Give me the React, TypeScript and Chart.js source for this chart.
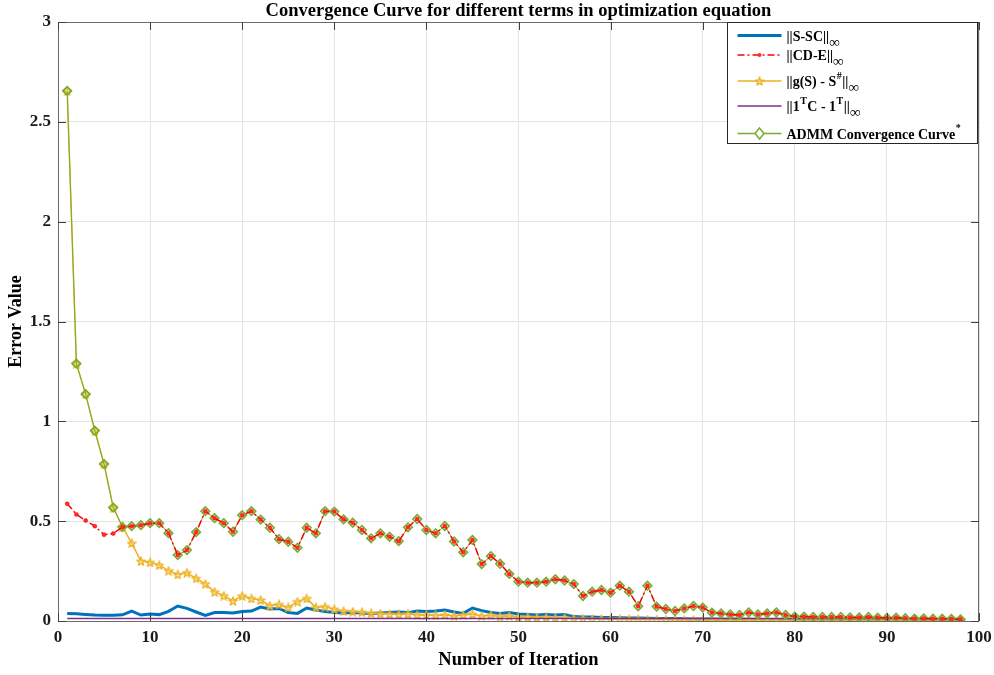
import React, { useEffect, useRef } from 'react';
import { Chart, registerables } from 'chart.js';

Chart.register(...registerables);

const TITLE = 'Convergence Curve for different terms in optimization equation';
const X_LABEL = 'Number of Iteration';
const Y_LABEL = 'Error Value';
const xTicks = [0, 10, 20, 30, 40, 50, 60, 70, 80, 90, 100];
const yTicks = [0, 0.5, 1, 1.5, 2, 2.5, 3];
const yTickLabels = ['0', '0.5', '1', '1.5', '2', '2.5', '3'];

const iterations = Array.from({ length: 98 }, (_, i) => i + 1);

const sSC = [
  0.037, 0.036, 0.033, 0.03, 0.029, 0.029, 0.031, 0.05, 0.03, 0.035,
  0.032, 0.048, 0.075, 0.063, 0.045, 0.028, 0.042, 0.042, 0.04, 0.047,
  0.05, 0.07, 0.06, 0.063, 0.042, 0.038, 0.065, 0.055, 0.047, 0.042,
  0.04, 0.042, 0.04, 0.038, 0.04, 0.042, 0.045, 0.042, 0.05, 0.048,
  0.05, 0.055, 0.045, 0.038, 0.065, 0.052, 0.043, 0.038, 0.043, 0.035,
  0.033, 0.03, 0.033, 0.03, 0.033, 0.022, 0.02, 0.02, 0.018, 0.018,
  0.016, 0.015, 0.015, 0.014, 0.013, 0.012, 0.012, 0.011, 0.01, 0.01,
  0.01, 0.009, 0.009, 0.009, 0.009, 0.008, 0.008, 0.008, 0.008, 0.008,
  0.008, 0.007, 0.007, 0.007, 0.007, 0.007, 0.007, 0.006, 0.006, 0.006,
  0.006, 0.006, 0.006, 0.006, 0.005, 0.005, 0.005, 0.005,
];

const cdE = [
  0.587, 0.534, 0.503, 0.475, 0.432, 0.438, 0.471, 0.475, 0.48, 0.49,
  0.49, 0.44, 0.33, 0.355, 0.445, 0.55, 0.515, 0.49, 0.447, 0.53,
  0.55, 0.508, 0.467, 0.41, 0.397, 0.367, 0.467, 0.439, 0.55, 0.548,
  0.509, 0.492, 0.456, 0.414, 0.439, 0.422, 0.4, 0.469, 0.511, 0.456,
  0.439, 0.476, 0.398, 0.344, 0.406, 0.285, 0.325, 0.287, 0.236, 0.197,
  0.192, 0.192, 0.197, 0.209, 0.203, 0.185, 0.125, 0.147, 0.155, 0.142,
  0.177, 0.147, 0.074, 0.177, 0.072, 0.06, 0.05, 0.063, 0.075, 0.067,
  0.042, 0.038, 0.033, 0.03, 0.043, 0.033, 0.038, 0.043, 0.03, 0.022,
  0.022, 0.02, 0.02, 0.02, 0.02, 0.018, 0.018, 0.02, 0.017, 0.015,
  0.017, 0.014, 0.012, 0.013, 0.011, 0.011, 0.01, 0.008,
];

const gS = [
  2.655, 1.289, 1.136, 0.953, 0.786, 0.568, 0.471, 0.39, 0.3, 0.294,
  0.28, 0.252, 0.233, 0.242, 0.214, 0.186, 0.146, 0.127, 0.101, 0.126,
  0.113, 0.105, 0.077, 0.083, 0.068, 0.097, 0.113, 0.068, 0.072, 0.059,
  0.05, 0.047, 0.044, 0.039, 0.037, 0.035, 0.033, 0.036, 0.03, 0.03,
  0.028, 0.03, 0.025, 0.03, 0.035, 0.025, 0.028, 0.022, 0.025, 0.02,
  0.02, 0.017, 0.018, 0.015, 0.016, 0.012, 0.012, 0.01, 0.01, 0.009,
  0.009, 0.008, 0.008, 0.007, 0.007, 0.006, 0.006, 0.005, 0.005, 0.005,
  0.005, 0.004, 0.004, 0.004, 0.004, 0.004, 0.004, 0.003, 0.003, 0.003,
  0.003, 0.003, 0.003, 0.003, 0.003, 0.003, 0.003, 0.003, 0.003, 0.003,
  0.003, 0.003, 0.003, 0.003, 0.003, 0.003, 0.003, 0.003,
];

const oneTC = [
  0.0125, 0.0125, 0.0125, 0.0125, 0.0125, 0.0125, 0.0125, 0.0125, 0.0125, 0.0125,
  0.0125, 0.0125, 0.0125, 0.0125, 0.0125, 0.0125, 0.0125, 0.0125, 0.0125, 0.0125,
  0.0125, 0.0125, 0.0125, 0.0125, 0.0125, 0.0125, 0.0125, 0.0125, 0.0125, 0.0125,
  0.012, 0.012, 0.012, 0.012, 0.012, 0.012, 0.012, 0.012, 0.012, 0.012,
  0.012, 0.012, 0.012, 0.012, 0.012, 0.012, 0.012, 0.012, 0.012, 0.012,
  0.012, 0.012, 0.012, 0.012, 0.012, 0.012, 0.012, 0.012, 0.012, 0.012,
  0.012, 0.012, 0.012, 0.012, 0.012, 0.012, 0.012, 0.012, 0.012, 0.012,
  0.012, 0.012, 0.012, 0.012, 0.012, 0.012, 0.012, 0.012, 0.012, 0.012,
  0.012, 0.012, 0.012, 0.012, 0.012, 0.012, 0.012, 0.012, 0.012, 0.012,
  0.012, 0.012, 0.012, 0.012, 0.012, 0.012, 0.012, 0.012,
];

const admm = [
  2.655, 1.289, 1.136, 0.953, 0.786, 0.568, 0.471, 0.475, 0.48, 0.49,
  0.49, 0.44, 0.33, 0.355, 0.445, 0.55, 0.515, 0.49, 0.447, 0.53,
  0.55, 0.508, 0.467, 0.41, 0.397, 0.367, 0.467, 0.439, 0.55, 0.548,
  0.509, 0.492, 0.456, 0.414, 0.439, 0.422, 0.4, 0.469, 0.511, 0.456,
  0.439, 0.476, 0.398, 0.344, 0.406, 0.285, 0.325, 0.287, 0.236, 0.197,
  0.192, 0.192, 0.197, 0.209, 0.203, 0.185, 0.125, 0.147, 0.155, 0.142,
  0.177, 0.147, 0.074, 0.177, 0.072, 0.06, 0.05, 0.063, 0.075, 0.067,
  0.042, 0.038, 0.033, 0.03, 0.043, 0.033, 0.038, 0.043, 0.03, 0.022,
  0.022, 0.02, 0.02, 0.02, 0.02, 0.018, 0.018, 0.02, 0.017, 0.015,
  0.017, 0.014, 0.012, 0.013, 0.011, 0.011, 0.01, 0.008,
];

const BLUE = '#0072BD';
const RED = '#FF0000';
const YELLOW = '#EDB120';
const PURPLE = '#7E2F8E';
const GREEN = '#77AC30';
const SERIF = '"Liberation Serif", "Times New Roman", serif';
const DASHDOT = [7, 3, 2, 3];

function makeStar(size: number): HTMLCanvasElement {
  const c = document.createElement('canvas');
  c.width = size;
  c.height = size;
  const g = c.getContext('2d')!;
  const cx = size / 2;
  const cy = size / 2 + 0.5;
  const R = size / 2 - 0.8;
  const r = R * 0.45;
  g.beginPath();
  for (let i = 0; i < 10; i++) {
    const ang = -Math.PI / 2 + (i * Math.PI) / 5;
    const rad = i % 2 === 0 ? R : r;
    const px = cx + rad * Math.cos(ang);
    const py = cy + rad * Math.sin(ang);
    if (i === 0) g.moveTo(px, py);
    else g.lineTo(px, py);
  }
  g.closePath();
  g.fillStyle = 'rgba(245,215,130,0.6)';
  g.fill();
  g.strokeStyle = YELLOW;
  g.lineWidth = 1.3;
  g.stroke();
  return c;
}

type Part = [string, 'n' | 'sub' | 'sup'];
interface LegendItem {
  parts: Part[];
  color: string;
  width: number;
  dash: number[];
  marker: 'dot' | 'star' | 'diamond' | null;
  dy: number;
}

const legendItems: LegendItem[] = [
  { parts: [['||S-SC||', 'n'], ['\u221E', 'sub']], color: BLUE, width: 3, dash: [], marker: null, dy: 13 },
  { parts: [['||CD-E||', 'n'], ['\u221E', 'sub']], color: RED, width: 1.5, dash: DASHDOT, marker: 'dot', dy: 32.5 },
  { parts: [['||g(S) - S', 'n'], ['#', 'sup'], ['||', 'n'], ['\u221E', 'sub']], color: YELLOW, width: 1.5, dash: [], marker: 'star', dy: 58.5 },
  { parts: [['||1', 'n'], ['T', 'sup'], ['C - 1', 'n'], ['T', 'sup'], ['||', 'n'], ['\u221E', 'sub']], color: PURPLE, width: 1.5, dash: [], marker: null, dy: 83.5 },
  { parts: [['ADMM Convergence Curve', 'n'], ['*', 'sup']], color: GREEN, width: 1.3, dash: [], marker: 'diamond', dy: 111 },
];

export default function App() {
  const ref = useRef<HTMLCanvasElement | null>(null);

  useEffect(() => {
    document.body.style.margin = '0';
    const canvas = ref.current;
    if (!canvas) return;
    const star = makeStar(10);

    const framePlugin = {
      id: 'matlabFrame',
      afterDraw(chart: any) {
        const { ctx, chartArea: a, scales } = chart;
        const xs = scales.x;
        const ys = scales.y;
        ctx.save();
        // frame
        ctx.strokeStyle = '#6a6a6a';
        ctx.lineWidth = 1;
        ctx.setLineDash([]);
        ctx.strokeRect(Math.round(a.left) + 0.5, Math.round(a.top) + 0.5, Math.round(a.right - a.left) - 1, Math.round(a.bottom - a.top));
        // inward ticks
        ctx.strokeStyle = '#404040';
        ctx.beginPath();
        const TL = 8;
        xTicks.forEach((v) => {
          const px = Math.round(xs.getPixelForValue(v)) + 0.5;
          ctx.moveTo(px, a.bottom);
          ctx.lineTo(px, a.bottom - TL);
          ctx.moveTo(px, a.top);
          ctx.lineTo(px, a.top + TL);
        });
        yTicks.forEach((v) => {
          const py = Math.round(ys.getPixelForValue(v)) + 0.5;
          ctx.moveTo(a.left, py);
          ctx.lineTo(a.left + TL, py);
          ctx.moveTo(a.right, py);
          ctx.lineTo(a.right - TL, py);
        });
        ctx.stroke();

        // title
        ctx.fillStyle = '#000';
        ctx.font = `bold 18.5px ${SERIF}`;
        ctx.textAlign = 'center';
        ctx.textBaseline = 'alphabetic';
        ctx.fillText(TITLE, (a.left + a.right) / 2, 16);

        // legend
        const bx1 = Math.round(a.right) - 1.5;
        const bx0 = bx1 - 250;
        const by0 = Math.round(a.top) + 0.5;
        const by1 = by0 + 121;
        ctx.fillStyle = '#fff';
        ctx.fillRect(bx0, by0, bx1 - bx0, by1 - by0);
        ctx.strokeStyle = '#262626';
        ctx.lineWidth = 1;
        ctx.strokeRect(bx0, by0, bx1 - bx0, by1 - by0);

        legendItems.forEach((it) => {
          const ly = by0 + it.dy;
          const lx0 = bx0 + 10;
          const lx1 = bx0 + 54;
          ctx.save();
          ctx.strokeStyle = it.color;
          ctx.lineWidth = it.width;
          ctx.setLineDash(it.dash);
          ctx.beginPath();
          ctx.moveTo(lx0, ly);
          ctx.lineTo(lx1, ly);
          ctx.stroke();
          ctx.setLineDash([]);
          const mx = (lx0 + lx1) / 2;
          if (it.marker === 'dot') {
            ctx.beginPath();
            ctx.arc(mx, ly, 2, 0, Math.PI * 2);
            ctx.fillStyle = '#ff2a2a';
            ctx.fill();
          } else if (it.marker === 'star') {
            ctx.drawImage(star, mx - 5, ly - 5);
          } else if (it.marker === 'diamond') {
            ctx.beginPath();
            ctx.moveTo(mx, ly - 5.5);
            ctx.lineTo(mx + 4.5, ly);
            ctx.lineTo(mx, ly + 5.5);
            ctx.lineTo(mx - 4.5, ly);
            ctx.closePath();
            ctx.fillStyle = '#fff';
            ctx.fill();
            ctx.strokeStyle = GREEN;
            ctx.lineWidth = 1.5;
            ctx.stroke();
          }
          ctx.restore();

          let tx = bx0 + 59;
          ctx.fillStyle = '#000';
          ctx.textAlign = 'left';
          ctx.textBaseline = 'alphabetic';
          it.parts.forEach(([text, mode]) => {
            if (mode === 'n') {
              ctx.font = `bold 14px ${SERIF}`;
              ctx.fillText(text, tx, ly + 5);
            } else if (mode === 'sub') {
              ctx.font = `15px ${SERIF}`;
              ctx.fillText(text, tx, ly + 11);
            } else {
              ctx.font = `bold 10px ${SERIF}`;
              ctx.fillText(text, tx + 0.5, ly - 2.5);
            }
            tx += ctx.measureText(text).width + (mode === 'sup' ? 1 : 0);
          });
        });
        ctx.restore();
      },
    };

    const pts = (arr: number[]) => iterations.map((x, i) => ({ x, y: arr[i] }));

    const chart = new Chart(canvas, {
      type: 'line',
      data: {
        datasets: [
          {
            label: '||S-SC||\u221E',
            data: pts(sSC),
            borderColor: BLUE,
            borderWidth: 3,
            pointRadius: 0,
            order: 5,
          },
          {
            label: '||CD-E||\u221E',
            data: pts(cdE),
            borderColor: RED,
            borderWidth: 1.5,
            borderDash: DASHDOT,
            pointStyle: 'circle',
            pointRadius: 2,
            pointBorderWidth: 0.5,
            pointBorderColor: RED,
            pointBackgroundColor: '#ff2a2a',
            order: 0,
          },
          {
            label: '||g(S) - S#||\u221E',
            data: pts(gS),
            borderColor: YELLOW,
            borderWidth: 1.5,
            pointStyle: star,
            pointRadius: 5,
            order: 3,
          },
          {
            label: '||1TC - 1T||\u221E',
            data: pts(oneTC),
            borderColor: PURPLE,
            borderWidth: 1.5,
            pointRadius: 0,
            order: 2,
          },
          {
            label: 'ADMM Convergence Curve*',
            data: pts(admm),
            borderColor: GREEN,
            borderWidth: 1,
            pointStyle: 'rectRot',
            pointRadius: 4.3,
            pointBorderWidth: 1.6,
            pointBorderColor: GREEN,
            pointBackgroundColor: 'rgba(255,255,255,0)',
            order: 1,
          },
        ],
      },
      options: {
        responsive: false,
        animation: false,
        events: [],
        layout: { padding: { top: 22, right: 15, left: 0, bottom: 0 } },
        elements: { line: { tension: 0, fill: false } },
        plugins: {
          legend: { display: false },
          title: { display: false },
          tooltip: { enabled: false },
        },
        scales: {
          x: {
            type: 'linear',
            min: 0,
            max: 100,
            afterBuildTicks: (s: any) => {
              s.ticks = xTicks.map((v) => ({ value: v }));
            },
            afterFit: (s: any) => {
              s.height = 54;
              s.paddingLeft = 0;
              s.paddingRight = 0;
            },
            ticks: {
              autoSkip: false,
              maxRotation: 0,
              padding: 6,
              color: '#1a1a1a',
              font: { family: SERIF, size: 17, weight: 'bold' },
            },
            grid: { color: '#e4e4e4', drawTicks: false, lineWidth: 1 },
            border: { display: false },
            title: {
              display: true,
              text: X_LABEL,
              color: '#000',
              font: { family: SERIF, size: 18.5, weight: 'bold' },
              padding: { top: 0, bottom: 4 },
            },
          },
          y: {
            type: 'linear',
            min: 0,
            max: 3,
            afterBuildTicks: (s: any) => {
              s.ticks = yTicks.map((v) => ({ value: v }));
            },
            afterFit: (s: any) => {
              s.width = 58;
              s.paddingTop = 0;
              s.paddingBottom = 0;
            },
            ticks: {
              autoSkip: false,
              padding: 7,
              color: '#1a1a1a',
              font: { family: SERIF, size: 17, weight: 'bold' },
              callback: (v: any) => {
                const i = yTicks.indexOf(Number(v));
                return i >= 0 ? yTickLabels[i] : '';
              },
            },
            grid: { color: '#e4e4e4', drawTicks: false, lineWidth: 1 },
            border: { display: false },
            title: {
              display: true,
              text: Y_LABEL,
              color: '#000',
              font: { family: SERIF, size: 18, weight: 'bold' },
              padding: { top: 6, bottom: 0 },
            },
          },
        },
      },
      plugins: [framePlugin],
    } as any);

    return () => {
      chart.destroy();
    };
  }, []);

  return (
    <div style={{ width: 994, height: 675, background: '#fff' }}>
      <canvas ref={ref} width={994} height={675} style={{ display: 'block', width: 994, height: 675 }} />
    </div>
  );
}
